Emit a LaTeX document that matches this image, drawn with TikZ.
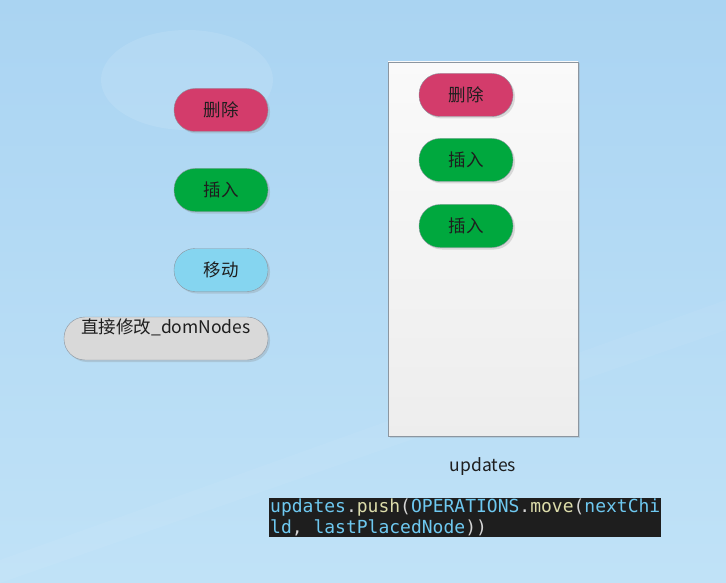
\documentclass[tikz,border=0pt]{standalone}
\usepackage{fontspec}
\setmainfont{Noto Sans CJK SC}
\setmonofont{DejaVu Sans Mono}
\usetikzlibrary{shadows}
\usetikzlibrary{calc}
\definecolor{bgtop}{RGB}{170,212,242}
\definecolor{bgbot}{RGB}{192,226,247}
\definecolor{delred}{RGB}{211,60,107}
\definecolor{insgreen}{RGB}{0,168,62}
\definecolor{movblue}{RGB}{133,213,240}
\definecolor{domgray}{RGB}{217,217,217}
\definecolor{edgegray}{RGB}{140,150,160}
\definecolor{codebg}{RGB}{30,30,30}
\definecolor{codevar}{RGB}{110,200,240}
\definecolor{codefn}{RGB}{220,220,170}
\definecolor{codepun}{RGB}{212,212,212}
\definecolor{textdark}{RGB}{30,30,30}
\newcommand{\cvar}[1]{\textcolor{codevar}{#1}}
\newcommand{\cfn}[1]{\textcolor{codefn}{#1}}
\newcommand{\cpun}[1]{\textcolor{codepun}{#1}}
\tikzstyle{op}=[draw=edgegray,thin,rounded corners=21pt,minimum width=94pt,minimum height=43pt,inner sep=0pt,text=textdark,font=\fontsize{17.5}{20}\selectfont,drop shadow={shadow xshift=2pt,shadow yshift=-2pt,opacity=0.25,fill=gray}]
\tikzstyle{del}=[op,fill=delred]
\tikzstyle{ins}=[op,fill=insgreen]
\tikzstyle{label}=[text=textdark,font=\fontsize{17.5}{20}\selectfont]

\begin{document}
\begin{tikzpicture}[x=1pt,y=-1pt]
    % background
    \shade[top color=bgtop,bottom color=bgbot] (0,0) rectangle (726,583);
    \useasboundingbox (0,0) rectangle (726,583);
    \fill[white,opacity=0.1] (187,80) ellipse (86pt and 50pt);
    \fill[white,opacity=0.05] (0,560) -- (726,300) -- (726,330) -- (0,583) -- cycle;

    % operations on the left
    \node[del] (del) at (221,110) {删除};
    \node[ins] (ins) at (221,190) {插入};
    \node[op,fill=movblue] (mov) at (221,270) {移动};
    \node[op,fill=domgray,minimum width=204pt,text height=16pt,text depth=27pt] (dom) at (166,338.5) {直接修改\_domNodes};

    % the updates queue
    \node[draw=edgegray,thin,top color=black!2,bottom color=black!7,minimum width=190pt,minimum height=374pt,
          drop shadow={shadow xshift=1.5pt,shadow yshift=-1.5pt,opacity=0.2,fill=gray}] (queue) at (483,249) {};
    \foreach \pos/\name/\kind/\txt in {{(466,95)/qdel/del/删除},{(466,160)/qinsa/ins/插入},{(466,226)/qinsb/ins/插入}}
        \node[\kind] (\name) at \pos {\txt};
    \node[label] (qname) at (483,467) {updates};

    % the code line
    \node[fill=codebg,inner xsep=1pt,inner ysep=1pt,anchor=north west,align=left,
          font=\ttfamily\fontsize{18}{20.5}\selectfont] (code) at (269,498)
        {\cvar{updates}\cpun{.}\cfn{push}\cpun{(}\cvar{OPERATIONS}\cpun{.}\cfn{move}\cpun{(}\cvar{nextChi}\\
         \cvar{ld}\cpun{,} \cvar{lastPlacedNode}\cpun{))}\hphantom{xxxxxxxxxxxxxxx}};
\end{tikzpicture}
\end{document}
